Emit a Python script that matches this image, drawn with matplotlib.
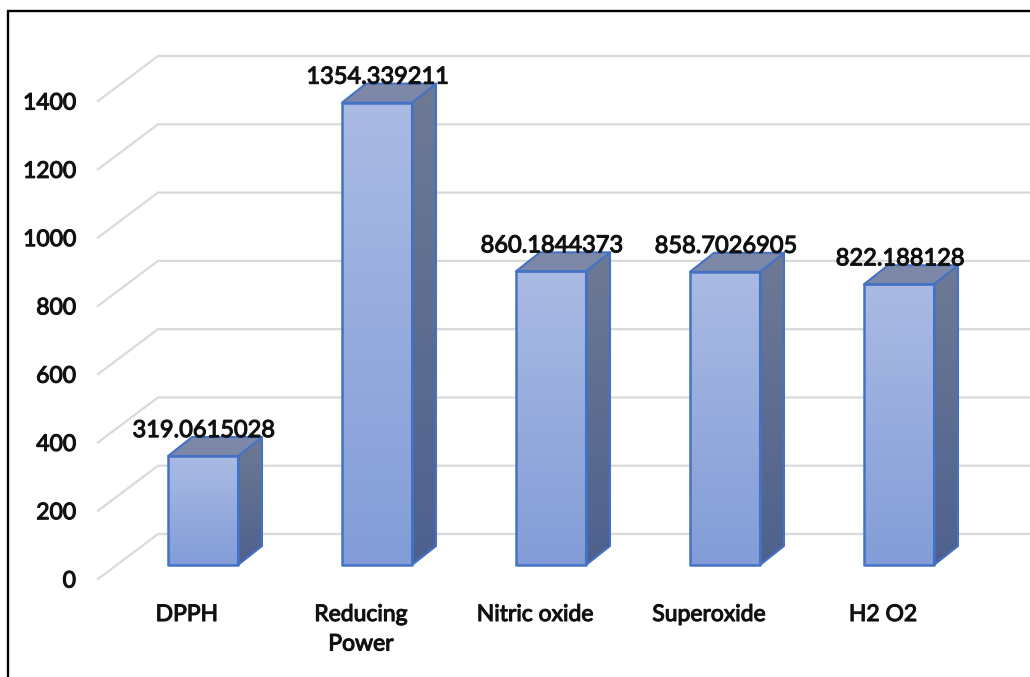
import matplotlib.pyplot as plt
import matplotlib.patheffects as pe
import numpy as np
from matplotlib.patches import Polygon

# values
categorias = ['DPPH', 'Reducing\nPower', 'Nitric oxide', 'Superoxide', 'H2 O2']
valores = [319.0615028, 1354.339211, 860.1844373, 858.7026905, 822.188128]
rotulos = ['319.0615028', '1354.339211', '860.1844373', '858.7026905', '822.188128']
ticks_y = [0, 200, 400, 600, 800, 1000, 1200, 1400]

plt.rcParams['font.family'] = ['Lato', 'DejaVu Sans']

W, H = 1030, 677
fig = plt.figure(figsize=(W / 100, H / 100), dpi=100)

# axes run from the front end of the gridlines to the edge of the picture
esq, dir, base, topo = 98, 1029, 579, 12
ax = fig.add_axes([esq / W, 1 - base / H, (dir - esq) / W, (base - topo) / H])
px_x = 174.0
px_y = 0.3414
ax.set_xlim((esq - 187) / px_x, (dir - 187) / px_x)
ax.set_ylim(0, (base - topo) / px_y)

# the installed face comes out light, a thin stroke makes it bold
negrito = [pe.withStroke(linewidth=0.8, foreground='#111111')]


def gradiente(poly, cor_topo, cor_base, y0, y1, x0, x1):
    a = np.array(plt.matplotlib.colors.to_rgb(cor_topo))
    b = np.array(plt.matplotlib.colors.to_rgb(cor_base))
    t = np.linspace(0, 1, 128)[:, None, None]
    img = a[None, None, :] * (1 - t) + b[None, None, :] * t
    im = ax.imshow(img, extent=[x0, x1, y0, y1], origin='upper', aspect='auto',
                   zorder=3, interpolation='bilinear')
    im.set_clip_path(poly)


# floor and wall offsets, in data units
parede_dx = 60 / px_x
parede_dy = 45 / px_y
chao_dy = 14 / px_y
barra_x = -19 / px_x
barra_w = 70 / px_x
prof_x = 24 / px_x
prof_y = 19 / px_y

# gridlines: short diagonal on the left wall, then along the back wall
for t in ticks_y:
    ax.plot([ax.get_xlim()[0], ax.get_xlim()[0] + parede_dx, ax.get_xlim()[1]],
            [t, t + parede_dy, t + parede_dy],
            color='#DADADA', lw=1.6, zorder=1, clip_on=False, solid_joinstyle='miter')

for i, v in enumerate(valores):
    x0 = i + barra_x
    x1 = x0 + barra_w
    y0 = chao_dy
    y1 = chao_dy + v

    lado = Polygon([(x1, y0), (x1 + prof_x, y0 + prof_y), (x1 + prof_x, y1 + prof_y), (x1, y1)],
                   closed=True, fc='none', ec='#4472C4', lw=1.5, zorder=4, joinstyle='round')
    ax.add_patch(lado)
    gradiente(lado, '#6E7A94', '#4E618E', y0, y1 + prof_y, x1, x1 + prof_x)

    cima = Polygon([(x0, y1), (x1, y1), (x1 + prof_x, y1 + prof_y), (x0 + prof_x, y1 + prof_y)],
                   closed=True, fc='#7D88A8', ec='#4472C4', lw=1.5, zorder=4, joinstyle='round')
    ax.add_patch(cima)

    frente = Polygon([(x0, y0), (x1, y0), (x1, y1), (x0, y1)],
                     closed=True, fc='none', ec='#4472C4', lw=1.8, zorder=5, joinstyle='round')
    ax.add_patch(frente)
    gradiente(frente, '#AABAE3', '#829DD8', y0, y1, x0, x1)

    ax.text(i + 17 / px_x, y1 + 25.5 / px_y, rotulos[i], ha='center', va='center',
            fontsize=17, color='#111111', zorder=6, path_effects=negrito)

ax.set_xlim((esq - 187) / px_x, (dir - 187) / px_x)
ax.set_ylim(0, (base - topo) / px_y)

ax.set_xticks(range(len(categorias)))
ax.set_xticklabels(categorias, fontsize=16.5, color='#111111', linespacing=1.5, va='top',
                   path_effects=negrito)
ax.set_yticks(ticks_y)
ax.set_yticklabels([str(t) for t in ticks_y], fontsize=16.5, color='#111111',
                   path_effects=negrito)
ax.tick_params(axis='x', length=0, pad=18)
ax.tick_params(axis='y', length=0, pad=16)
for s in ax.spines.values():
    s.set_visible(False)
ax.patch.set_alpha(0)

# black frame of the screenshot, top and left only
fig.add_artist(plt.Line2D([7.5 / W, 7.5 / W, 1], [0, 1 - 11 / H, 1 - 11 / H],
                          color='black', lw=1.7, solid_joinstyle='miter'))

plt.savefig('out.png', dpi=100)
